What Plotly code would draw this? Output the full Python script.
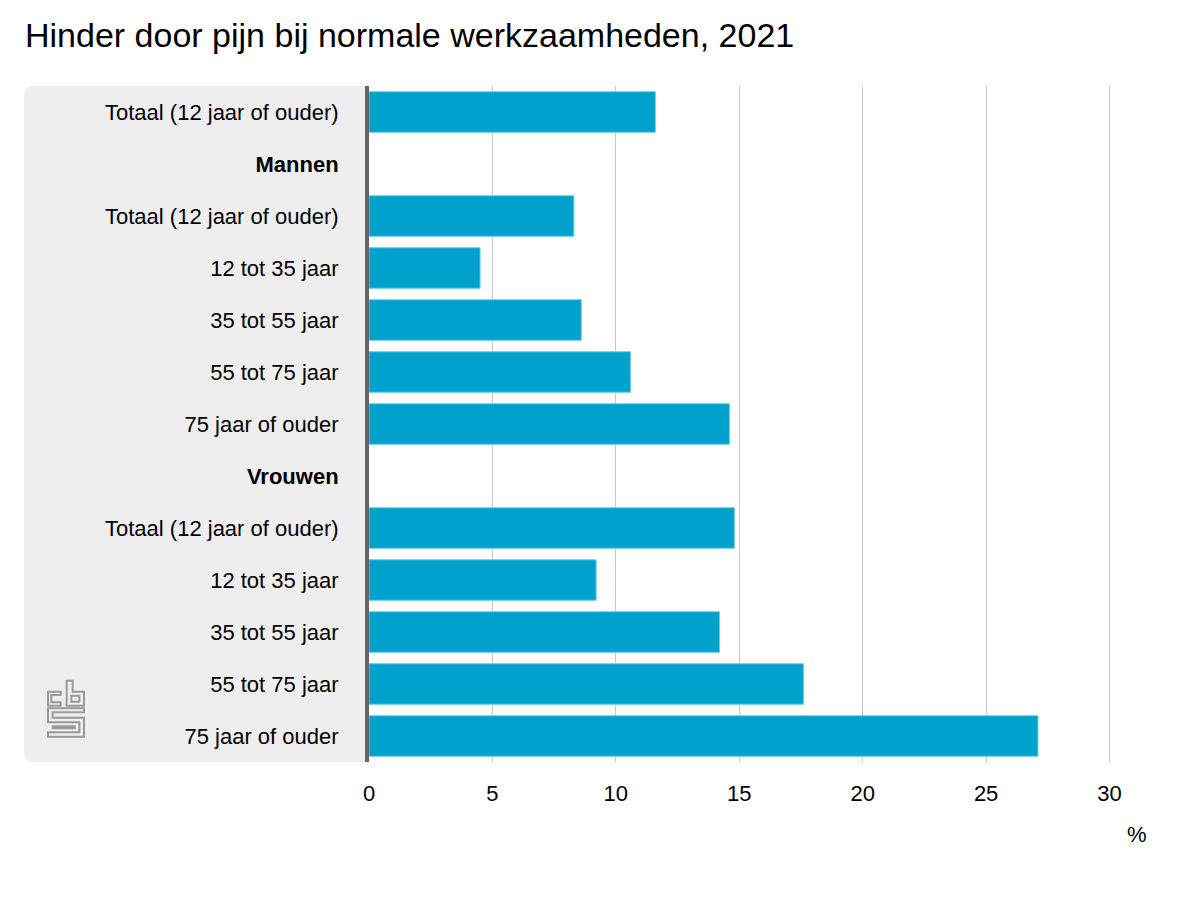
import plotly.graph_objects as go

# ---- data ----
labels = [
    "Totaal (12 jaar of ouder)",
    "<b>Mannen</b>",
    "Totaal (12 jaar of ouder)",
    "12 tot 35 jaar",
    "35 tot 55 jaar",
    "55 tot 75 jaar",
    "75 jaar of ouder",
    "<b>Vrouwen</b>",
    "Totaal (12 jaar of ouder)",
    "12 tot 35 jaar",
    "35 tot 55 jaar",
    "55 tot 75 jaar",
    "75 jaar of ouder",
]
values = [11.6, None, 8.3, 4.5, 8.6, 10.6, 14.6, None, 14.8, 9.2, 14.2, 17.6, 27.1]
x_ticks = [0, 5, 10, 15, 20, 25, 30]
title_text = "Hinder door pijn bij normale werkzaamheden, 2021"
unit_text = "%"

row_ids = [f"r{i}" for i in range(len(labels))]

# ---- layout geometry (page pixels; the page body has an 8px margin) ----
OFF = 8
W, H = 1200, 900
L_page, T_page = 369, 86
PW, PH = 743, 676
L, T = L_page - OFF, T_page - OFF
R = W - L - PW
B = H - T - PH
FONT = "Liberation Sans, Arial, Helvetica, sans-serif"


def px(x, y):
    return ((x - L_page) / PW, (T_page + PH - y) / PH)


def fmt(pt):
    a, b = px(*pt)
    return f"{a:.5f},{b:.5f}"


fig = go.Figure(
    go.Bar(
        x=values,
        y=row_ids,
        orientation="h",
        marker=dict(color="#00A1CD", line=dict(color="#6CCBE6", width=1)),
        hoverinfo="x",
    )
)

shapes = []
# grey label panel with rounded left corners
r = 10
x0, x1, y0, y1 = 24, 368, 86, 762
panel = (
    f"M {fmt((x1, y0))} L {fmt((x0 + r, y0))} Q {fmt((x0, y0))} {fmt((x0, y0 + r))} "
    f"L {fmt((x0, y1 - r))} Q {fmt((x0, y1))} {fmt((x0 + r, y1))} L {fmt((x1, y1))} Z"
)
shapes.append(dict(type="path", path=panel, xref="paper", yref="paper",
                   fillcolor="#EEEEEE", line=dict(width=0), layer="below"))

# CBS logo (decorative outline)
ox, oy = 40, 675


def z(a, b):
    return (ox + a / 3, oy + b / 3)


logo_polys = [
    [(24, 50), (62, 50), (62, 60), (34, 60), (34, 82), (62, 82), (62, 92), (24, 92)],
    [(80, 17), (98, 17), (98, 50), (132, 50), (132, 92), (80, 92)],
    [(94, 62), (118, 62), (118, 80), (94, 80)],
    [(24, 100), (132, 100), (132, 112), (38, 112), (38, 128), (132, 128),
     (132, 185), (24, 185), (24, 172), (118, 172), (118, 142), (24, 142)],
    [(38, 154), (104, 154), (104, 160), (38, 160)],
]
for poly in logo_polys:
    pts = [z(a, b) for a, b in poly]
    p = "M " + fmt(pts[0]) + " " + " ".join("L " + fmt(q) for q in pts[1:]) + " Z"
    shapes.append(dict(type="path", path=p, xref="paper", yref="paper",
                       fillcolor="rgba(0,0,0,0)", line=dict(color="#9A9A9A", width=2),
                       layer="above"))

ux, uy = px(1137, 834)

fig.update_layout(
    width=W,
    height=H,
    margin=dict(l=L, r=R, t=T, b=B, pad=0),
    paper_bgcolor="white",
    plot_bgcolor="white",
    showlegend=False,
    bargap=0.22,
    font=dict(family=FONT, size=22, color="#000000"),
    title=dict(
        text=title_text,
        x=(25 - OFF) / W,
        xref="container",
        xanchor="left",
        y=1 - (35 - OFF) / H,
        yref="container",
        yanchor="middle",
        font=dict(family=FONT, size=34, color="#000000"),
    ),
    xaxis=dict(
        range=[0, 30.1],
        tickvals=x_ticks,
        ticktext=[str(v) for v in x_ticks],
        showgrid=True,
        gridcolor="#C8C8C8",
        gridwidth=1,
        zeroline=False,
        showline=False,
        ticks="",
        ticklabelstandoff=16,
        tickfont=dict(family=FONT, size=22, color="#000000"),
        fixedrange=True,
    ),
    yaxis=dict(
        categoryorder="array",
        categoryarray=row_ids,
        tickvals=row_ids,
        ticktext=labels,
        autorange="reversed",
        showgrid=False,
        zeroline=False,
        showline=True,
        linecolor="#666666",
        linewidth=4,
        ticks="",
        ticklabelstandoff=22,
        tickfont=dict(family=FONT, size=22, color="#000000"),
        fixedrange=True,
    ),
    shapes=shapes,
    annotations=[
        dict(text=unit_text, x=ux, y=uy, xref="paper", yref="paper",
             xanchor="center", yanchor="middle", showarrow=False,
             font=dict(family=FONT, size=22, color="#000000"))
    ],
)

fig.write_html("out.html")
